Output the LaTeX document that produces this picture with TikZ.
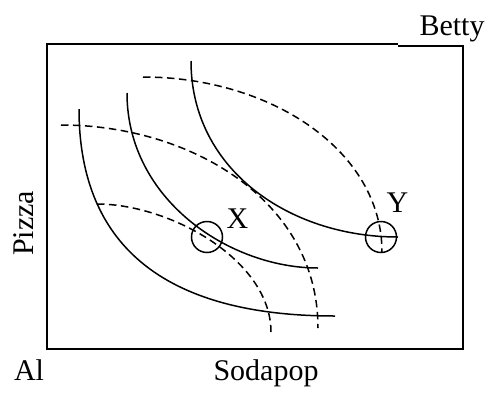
\documentclass[tikz,border=0pt]{standalone}
\usepackage{fontspec}
\setmainfont{Liberation Serif}
\begin{document}
\begin{tikzpicture}[x=1pt,y=-1pt,
  lbl/.style={font=\fontsize{30}{36}\selectfont, inner sep=0pt, anchor=base},
  frame/.style={line width=2pt},
  solidcurve/.style={line width=1.5pt},
  dashcurve/.style={line width=1.5pt, dash pattern=on 7.5pt off 4.5pt},
  ring/.style={circle, draw, line width=1.5pt, minimum size=31pt, inner sep=0pt}]
\useasboundingbox (0,0) rectangle (488,392);
% frame
\draw[frame] (398,44.3) -- (46.7,44.3) -- (46.7,348.7) -- (462.7,348.7) -- (462.7,46) -- (398,46);
% labels
\node[lbl] (betty) at (452,35) {Betty};
\node[lbl] (al) at (29,380) {Al};
\node[lbl] (soda) at (266,380) {Sodapop};
\node[lbl, rotate=90] (pizza) at (33,223.5) {Pizza};
\node[lbl] (xl) at (237.5,228) {X};
\node[lbl] (yl) at (397.5,212) {Y};
% circles
\node[ring] (X) at (207,237) {};
\node[ring] (Y) at (381,237) {};
% solid curves (Al)
\draw[solidcurve] (79,109) .. controls (79,250) and (170,316) .. (335,316);
\draw[solidcurve] (127,93) .. controls (127,200) and (230,268) .. (318,268);
\draw[solidcurve] (191,61) .. controls (191,170) and (290,237) .. (398,237);
% dashed curves (Betty)
\draw[dashcurve] (97,204) .. controls (170,204) and (271,260) .. (271,332);
\draw[dashcurve] (61,125) .. controls (190,125) and (318,200) .. (318,328);
\draw[dashcurve] (143,77) .. controls (270,77) and (382,150) .. (382,252);
\end{tikzpicture}
\end{document}
